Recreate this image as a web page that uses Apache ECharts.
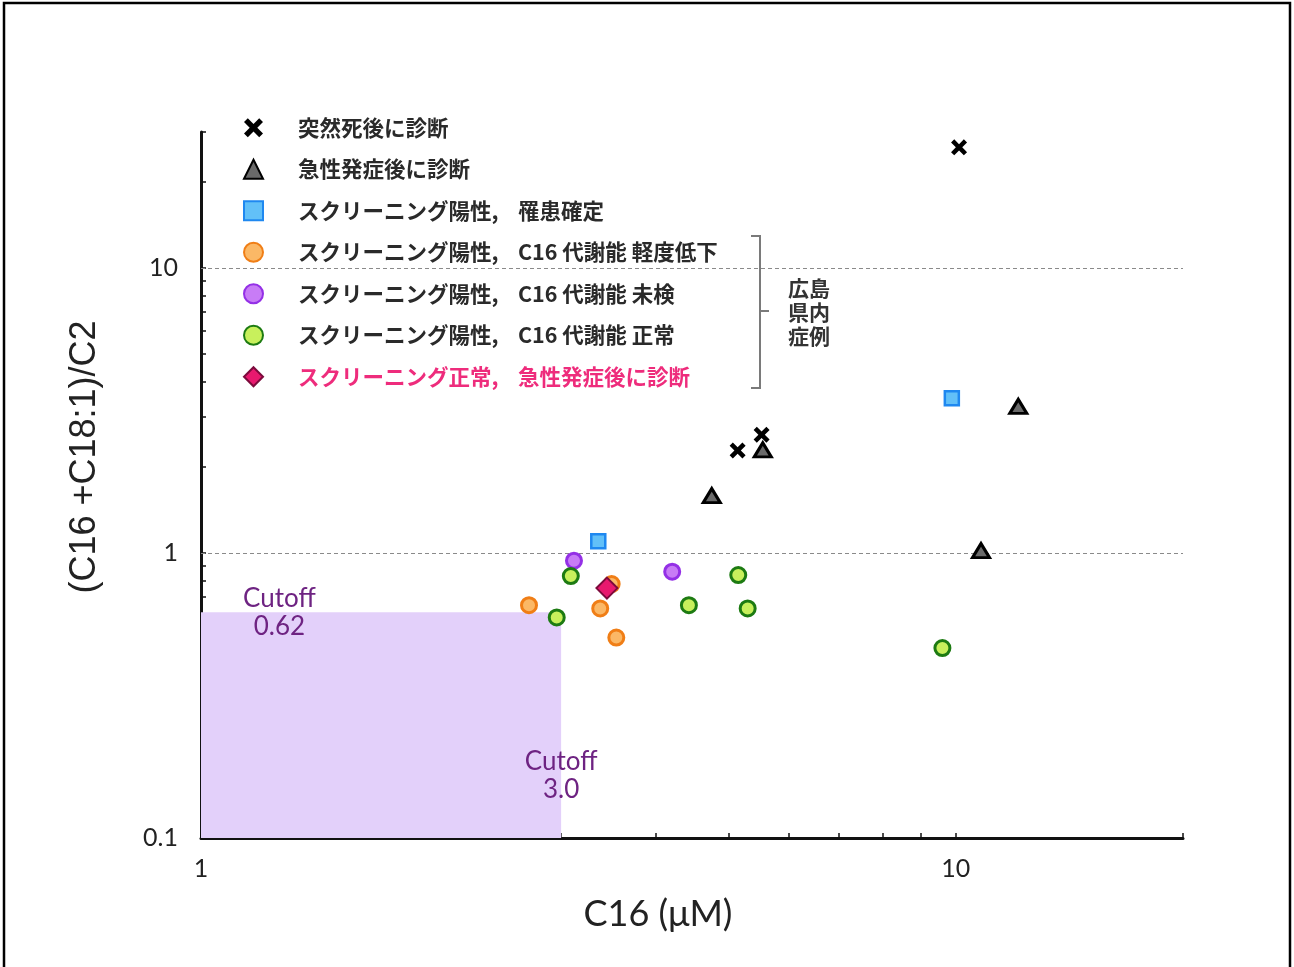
<!DOCTYPE html>
<html>
<head>
<meta charset="utf-8">
<script src="https://cdn.jsdelivr.net/npm/echarts@6/dist/echarts.min.js"></script>
<style>
  html, body { margin: 0; padding: 0; background: #ffffff; }
  #chart { width: 1294px; height: 967px; }
</style>
</head>
<body>
<div id="chart"></div>
<script>
// Series names (legend order)
const seriesNames = [
  '突然死後に診断',
  '急性発症後に診断',
  'スクリーニング陽性, 罹患確定',
  'スクリーニング陽性, C16 代謝能 軽度低下',
  'スクリーニング陽性, C16 代謝能 未検',
  'スクリーニング陽性, C16 代謝能 正常',
  'スクリーニング正常, 急性発症後に診断'
];

// [C16 (µM), (C16 + C18:1)/C2]
const suddenDeath  = [[10.1, 26.5], [5.14, 2.29], [5.53, 2.60]];
const acuteOnset   = [[4.75, 1.59], [5.55, 2.30], [12.1, 3.27], [10.8, 1.02]];
const confirmed    = [[9.88, 3.49], [3.36, 1.10]];
const mildLow      = [[2.72, 0.656], [3.38, 0.639], [3.55, 0.505], [3.50, 0.778]];
const notTested    = [[3.12, 0.94], [4.21, 0.86]];
const normalC16    = [[3.09, 0.83], [2.96, 0.594], [4.43, 0.656], [5.15, 0.837], [5.30, 0.639], [9.60, 0.464]];
const screenNormal = [[3.45, 0.753]];

// Cutoffs
const cutoffC16 = 3.0;
const cutoffRatio = 0.62;

// Axis ranges, ticks and labels
const xRange = [1, 20];
const yRange = [0.1, 30];
const xTickValues = [1, 2, 3, 4, 5, 6, 7, 8, 9, 10, 20];
const xLabelValues = [1, 10];
const yTickValues = [0.1, 0.2, 0.3, 0.4, 0.5, 0.6, 0.7, 0.8, 0.9, 1, 2, 3, 4, 5, 6, 7, 8, 9, 10, 20, 30];
const yLabelValues = [0.1, 1, 10];
const guideLines = [1, 10];

const CROSS = 'path://M2,0L5,3L8,0L10,2L7,5L10,8L8,10L5,7L2,10L0,8L3,5L0,2Z';
const NUM_FONT = 'Lato, "Open Sans", sans-serif';
const JP_FONT = '"Noto Sans CJK JP", "Noto Sans", sans-serif';
const PURPLE_TEXT = '#6e2382';

const chart = echarts.init(document.getElementById('chart'), null, { renderer: 'canvas' });

function pointSeries(name, data, symbol, size, fill, border, bw, z) {
  return {
    name, type: 'scatter', data, symbol, symbolSize: size, z,
    itemStyle: { color: fill, borderColor: border, borderWidth: bw, opacity: 1 },
    emphasis: { disabled: true }
  };
}

const legendText = (color, first) => Object.assign(
  { fontFamily: JP_FONT, fontSize: 21.5, fontWeight: 'bold', color, lineHeight: 22 },
  first ? { width: 220, padding: [0, 0, 0, 30] } : {}
);

const option = {
  backgroundColor: '#ffffff',
  animation: false,
  grid: { left: 201, right: 111, top: 132, bottom: 129, containLabel: false, outerBoundsMode: 'none' },
  xAxis: {
    type: 'log', logBase: 10, min: xRange[0], max: xRange[1],
    name: 'C16 (μM)', nameLocation: 'middle', nameGap: 58,
    nameTextStyle: { fontFamily: NUM_FONT, fontSize: 36, color: '#222', padding: [0, 68, 0, 0] },
    axisLine: { show: true, onZero: false, lineStyle: { color: '#111', width: 3 } },
    axisTick: { show: true, inside: true, length: 5, customValues: xTickValues, lineStyle: { color: '#111', width: 1.5 } },
    axisLabel: { customValues: xLabelValues, margin: 18, fontFamily: NUM_FONT, fontSize: 25, color: '#222',
      formatter: v => String(v) },
    splitLine: { show: false }, minorTick: { show: false }
  },
  yAxis: {
    type: 'log', logBase: 10, min: yRange[0], max: yRange[1],
    name: '(C16 +C18:1)/C2', nameLocation: 'middle', nameGap: 98, nameRotate: 90,
    nameTextStyle: { fontFamily: '"Liberation Sans", Arial, sans-serif', fontSize: 36, color: '#222', padding: [0, 0, 0, 56] },
    axisLine: { show: true, onZero: false, lineStyle: { color: '#111', width: 3 } },
    axisTick: { show: true, inside: true, length: 5, customValues: yTickValues, lineStyle: { color: '#111', width: 1.5 } },
    axisLabel: { customValues: yLabelValues, margin: 23, fontFamily: NUM_FONT, fontSize: 25, color: '#222',
      formatter: v => (v < 1 ? v.toFixed(1) : String(Math.round(v))) },
    splitLine: { show: false }, minorTick: { show: false }
  },
  legend: {
    orient: 'vertical', left: 238, top: 112,
    itemWidth: 19, itemHeight: 19, itemGap: 20,
    selectedMode: false,
    data: seriesNames,
    textStyle: {
      fontFamily: JP_FONT, fontSize: 21.5, fontWeight: 'bold', color: '#2a2a2a',
      rich: {
        a:  legendText('#2a2a2a', true),
        b:  legendText('#2a2a2a', false),
        pa: legendText('#ee2c7c', true),
        pb: legendText('#ee2c7c', false)
      }
    },
    formatter: name => {
      const pink = name === seriesNames[6];
      const a = pink ? 'pa' : 'a';
      const b = pink ? 'pb' : 'b';
      const i = name.indexOf(',');
      if (i < 0) return '{' + a + '|' + name + '}';
      return '{' + a + '|' + name.slice(0, i + 1) + '}{' + b + '|' + name.slice(i + 1).trim() + '}';
    }
  },
  series: [
    {
      // cutoff region, guide lines and cutoff labels
      name: 'cutoff', type: 'scatter', data: [], z: 1, silent: true,
      markArea: {
        silent: true,
        itemStyle: { color: '#e3d0fa', opacity: 1 },
        label: { show: false },
        data: [[{ coord: [xRange[0], yRange[0]] }, { coord: [cutoffC16, cutoffRatio] }]]
      },
      markLine: {
        silent: true, symbol: 'none',
        lineStyle: { color: '#8a8a8a', width: 1, type: [4, 3] },
        label: { show: false },
        data: guideLines.map(v => ({ yAxis: v }))
      },
      markPoint: {
        silent: true, symbol: 'circle', symbolSize: 0,
        label: {
          show: true, position: 'inside', color: PURPLE_TEXT, fontFamily: NUM_FONT,
          fontSize: 26, lineHeight: 28, align: 'center', verticalAlign: 'middle'
        },
        data: [
          { coord: [1.27, cutoffRatio], label: { formatter: 'Cutoff\n' + cutoffRatio.toFixed(2) } },
          { coord: [cutoffC16, 0.165], label: { formatter: 'Cutoff\n' + cutoffC16.toFixed(1) } }
        ]
      }
    },
    pointSeries(seriesNames[0], suddenDeath, CROSS, 16, '#000000', '#000000', 0, 5),
    pointSeries(seriesNames[1], acuteOnset, 'triangle', [17, 14], '#6a6a6a', '#000000', 3, 5),
    pointSeries(seriesNames[2], confirmed, 'rect', 14, '#62c0f8', '#1f88f0', 2.5, 5),
    pointSeries(seriesNames[3], mildLow, 'circle', 15, '#fbb866', '#f07e16', 3, 5),
    pointSeries(seriesNames[4], notTested, 'circle', 15, '#c87cf6', '#9430e6', 3, 5),
    pointSeries(seriesNames[5], normalC16, 'circle', 15, '#c8f05c', '#1d7b12', 3, 5),
    pointSeries(seriesNames[6], screenNormal, 'diamond', 21, '#e8196e', '#7c0b3c', 2, 6)
  ],
  graphic: [
    // outer frame
    { type: 'rect', silent: true, z: 100,
      shape: { x: 4, y: 3, width: 1286, height: 980 },
      style: { fill: null, stroke: '#000', lineWidth: 2.5 } },
    // bracket grouping the regional cases
    { type: 'polyline', silent: true, z: 10,
      shape: { points: [[751, 236], [760, 236], [760, 388], [751, 388]] },
      style: { fill: null, stroke: '#7a7a7a', lineWidth: 2 } },
    { type: 'line', silent: true, z: 10,
      shape: { x1: 760, y1: 311, x2: 769, y2: 311 },
      style: { stroke: '#7a7a7a', lineWidth: 2 } },
    { type: 'text', silent: true, z: 10, left: 788, top: 276,
      style: { text: '広島\n県内\n症例', fontFamily: JP_FONT, fontSize: 21, fontWeight: 'bold',
        lineHeight: 24, fill: '#333' } }
  ]
};

chart.setOption(option);
</script>
</body>
</html>
